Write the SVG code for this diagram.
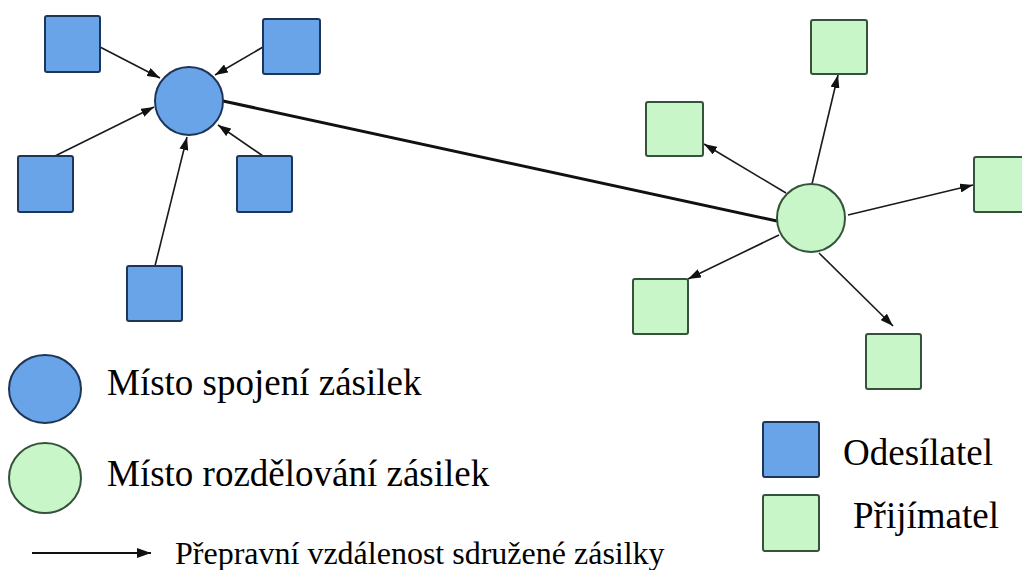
<svg xmlns="http://www.w3.org/2000/svg" width="1022" height="570" viewBox="0 0 1022 570">
<style>
.bl{fill:#6aa4e8;stroke:#1e3557;stroke-width:2}
.gr{fill:#c8f6c8;stroke:#34533a;stroke-width:2}
.ar{stroke:#1a1a1a;stroke-width:1.6;fill:none;marker-end:url(#ah)}
.thick{stroke:#111;stroke-width:3;fill:none}
.t{font-family:"Liberation Serif","Times New Roman",serif;fill:#000}
.big{font-size:37px}
.small{font-size:32px}
</style>
<defs>
<marker id="ah" markerUnits="userSpaceOnUse" markerWidth="13" markerHeight="9" refX="13" refY="4.5" orient="auto">
<path d="M0,0 L13,4.5 L0,9 z" fill="#111"/>
</marker>
<marker id="ah2" markerUnits="userSpaceOnUse" markerWidth="14" markerHeight="10" refX="14" refY="5" orient="auto">
<path d="M0,0 L14,5 L0,10 z" fill="#111"/>
</marker>
</defs>
<rect width="1022" height="570" fill="#fff"/>
<g id="connectors">
<line class="thick" x1="223" y1="101" x2="777" y2="221"/>
<line class="ar" x1="100" y1="47" x2="160" y2="78"/>
<line class="ar" x1="263" y1="47" x2="215" y2="75"/>
<line class="ar" x1="55" y1="156" x2="154" y2="107"/>
<line class="ar" x1="263" y1="156" x2="218" y2="125"/>
<line class="ar" x1="155" y1="266" x2="187" y2="137"/>
<line class="ar" x1="812" y1="184" x2="838" y2="75"/>
<line class="ar" x1="786" y1="193" x2="704" y2="144"/>
<line class="ar" x1="848" y1="215" x2="973" y2="185"/>
<line class="ar" x1="779" y1="235" x2="688" y2="279"/>
<line class="ar" x1="819" y1="253" x2="893" y2="326"/>
</g>
<g id="hub-blue"><circle class="bl" cx="189" cy="101" r="34"/></g>
<g id="hub-green"><circle class="gr" cx="811" cy="218" r="34"/></g>
<g id="s1"><rect class="bl" x="45" y="16" width="55" height="56" rx="2"/></g>
<g id="s2"><rect class="bl" x="263" y="19" width="57" height="55" rx="2"/></g>
<g id="s3"><rect class="bl" x="18" y="156" width="55" height="56" rx="2"/></g>
<g id="s4"><rect class="bl" x="237" y="156" width="55" height="56" rx="2"/></g>
<g id="s5"><rect class="bl" x="127" y="266" width="55" height="55" rx="2"/></g>
<g id="r1"><rect class="gr" x="811" y="20" width="56" height="54" rx="2"/></g>
<g id="r2"><rect class="gr" x="646" y="102" width="57" height="54" rx="2"/></g>
<g id="r3"><rect class="gr" x="974" y="157" width="56" height="55" rx="2"/></g>
<g id="r4"><rect class="gr" x="633" y="279" width="55" height="55" rx="2"/></g>
<g id="r5"><rect class="gr" x="866" y="334" width="55" height="55" rx="2"/></g>
<g id="legend-join">
<ellipse class="bl" cx="45" cy="389" rx="36" ry="34"/>
<text class="t big" x="107" y="395">Místo spojení zásilek</text>
</g>
<g id="legend-split">
<ellipse class="gr" cx="45" cy="478" rx="36" ry="35"/>
<text class="t big" x="107" y="486">Místo rozdělování zásilek</text>
</g>
<g id="legend-arrow">
<line x1="32" y1="553" x2="151" y2="553" stroke="#111" stroke-width="2" marker-end="url(#ah2)"/>
<text class="t small" x="175" y="564">Přepravní vzdálenost sdružené zásilky</text>
</g>
<g id="legend-sender">
<rect class="bl" x="763" y="422" width="56" height="55" rx="2"/>
<text class="t big" x="843" y="465">Odesílatel</text>
</g>
<g id="legend-receiver">
<rect class="gr" x="763" y="495" width="56" height="56" rx="2"/>
<text class="t big" x="853" y="528">Přijímatel</text>
</g>
</svg>
